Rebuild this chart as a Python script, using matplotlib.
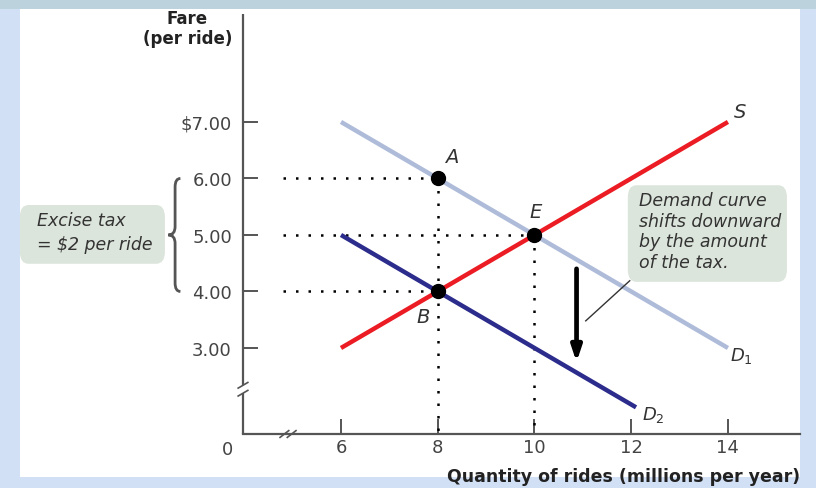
import matplotlib.pyplot as plt
from matplotlib.patches import Rectangle, FancyBboxPatch, PathPatch
from matplotlib.path import Path

# data
qty_ticks = [6, 8, 10, 12, 14]
fare_ticks = [3, 4, 5, 6, 7]
fare_labels = ['3.00', '4.00', '5.00', '6.00', '$7.00']

supply_q = [6, 14]
supply_p = [3, 7]
demand1_q = [6, 14]
demand1_p = [7, 3]
demand2_q = [6, 12.1]
demand2_p = [5, 1.95]

points = {'A': (8, 6), 'E': (10, 5), 'B': (8, 4)}

grey = '#444444'

fig = plt.figure(figsize=(8.16, 4.89), dpi=100)
fig.patch.set_facecolor('#d2e0f6')
# white panel and top band (behind the axes)
fig.patches.append(Rectangle((0, 1 - 10 / 489), 1, 10 / 489, transform=fig.transFigure,
                             facecolor='#bcd3dd', edgecolor='none', zorder=-5))
fig.patches.append(Rectangle((20 / 816, 11 / 489), 780 / 816, 468 / 489, transform=fig.transFigure,
                             facecolor='white', edgecolor='none', zorder=-5))

ax = fig.add_axes([243 / 816, 54 / 489, 557 / 816, 420 / 489])
ax.patch.set_alpha(0)
x0, x1 = 3.974, 15.49
y0, y1 = 1.478, 8.91
ax.set_xlim(x0, x1)
ax.set_ylim(y0, y1)

for s in ['top', 'right', 'left']:
    ax.spines[s].set_visible(False)
ax.spines['bottom'].set_color('#555555')
ax.spines['bottom'].set_linewidth(1.6)

# y axis drawn with a break
ax.plot([x0, x0], [y0, 2.2], color='#555555', lw=1.6, clip_on=False, solid_capstyle='butt')
ax.plot([x0, x0], [2.34, y1], color='#555555', lw=1.6, clip_on=False, solid_capstyle='butt')
for yb in [2.2, 2.34]:
    ax.plot([x0 - 0.1, x0 + 0.1], [yb - 0.05, yb + 0.05], color='#555555', lw=1.2, clip_on=False)
# x axis break marks
for xb in [4.83, 4.98]:
    ax.plot([xb - 0.09, xb + 0.09], [y0 - 0.06, y0 + 0.06], color='#555555', lw=1.2, clip_on=False)

ax.set_xticks(qty_ticks)
ax.set_xticklabels([str(q) for q in qty_ticks])
ax.set_yticks(fare_ticks)
ax.set_yticklabels(fare_labels)
ax.tick_params(axis='both', direction='in', length=11, width=1.4, color='#555555',
               labelcolor=grey, labelsize=13)
ax.tick_params(axis='x', pad=3)
ax.tick_params(axis='y', pad=8)
ax.text(3.66, y0 - 0.1, '0', ha='center', va='top', fontsize=13, color=grey, clip_on=False)

# dotted guide lines
for name, (q, p) in points.items():
    ax.plot([4.8, q], [p, p], color='black', lw=1.8, ls=(0, (1, 4)), zorder=2, clip_on=False)
ax.plot([8, 8], [6, y0], color='black', lw=1.8, ls=(0, (1, 4)), zorder=2)
ax.plot([10, 10], [5, y0], color='black', lw=1.8, ls=(0, (1, 4)), zorder=2)

# curves
ax.plot(demand1_q, demand1_p, color='#aebbd9', lw=3.2, solid_capstyle='butt', zorder=3)
ax.plot(demand2_q, demand2_p, color='#2c2c8c', lw=3.2, solid_capstyle='butt', zorder=3)
ax.plot(supply_q, supply_p, color='#ec1c24', lw=3.2, solid_capstyle='butt', zorder=4)

for name, (q, p) in points.items():
    ax.plot(q, p, 'o', color='black', ms=10, zorder=5)

lbl = dict(fontsize=14, color='#333333', style='italic')
ax.text(8.29, 6.38, 'A', ha='center', va='center', **lbl)
ax.text(10.03, 5.41, 'E', ha='center', va='center', **lbl)
ax.text(7.70, 3.55, 'B', ha='center', va='center', **lbl)
ax.text(14.25, 7.18, 'S', ha='center', va='center', **lbl)
ax.text(14.05, 2.87, r'$D_1$', ha='left', va='center', fontsize=13, color='#333333')
ax.text(12.22, 1.83, r'$D_2$', ha='left', va='center', fontsize=13, color='#333333')

# shift arrow and leader
ax.annotate('', xy=(10.87, 2.7), xytext=(10.87, 4.45),
            arrowprops=dict(arrowstyle='-|>,head_width=0.3,head_length=0.9',
                            color='black', lw=3.4), zorder=6)
ax.plot([11.06, 11.97], [3.48, 4.19], color='#333333', lw=1.0, zorder=6)

# callout boxes
box_kw = dict(boxstyle='round,pad=0,rounding_size=0.18', facecolor='#dce5dc',
              edgecolor='none', clip_on=False, zorder=1, mutation_aspect=1.2)
ax.add_patch(FancyBboxPatch((11.93, 4.17), 3.29, 1.71, **box_kw))
ax.text(12.17, 5.78, 'Demand curve\nshifts downward\nby the amount\nof the tax.',
        ha='left', va='top', fontsize=12.5, style='italic', color='#333333',
        linespacing=1.2, zorder=7)
ax.add_patch(FancyBboxPatch((-0.64, 4.49), 3.0, 1.04, **box_kw))
ax.text(-0.28, 5.05, 'Excise tax\n= $2 per ride', ha='left', va='center', fontsize=12.5,
        style='italic', color='#333333', linespacing=1.45, clip_on=False)

# brace
bx, bm, bt = 2.68, 2.57, 2.43
verts = [(bx, 6.0), (bm, 6.0), (bm, 5.85),
         (bm, 5.15),
         (bm, 5.0), (bt, 5.0),
         (bm, 5.0), (bm, 4.85),
         (bm, 4.15),
         (bm, 4.0), (bx, 4.0)]
codes = [Path.MOVETO, Path.CURVE3, Path.CURVE3,
         Path.LINETO,
         Path.CURVE3, Path.CURVE3,
         Path.CURVE3, Path.CURVE3,
         Path.LINETO,
         Path.CURVE3, Path.CURVE3]
ax.add_patch(PathPatch(Path(verts, codes), facecolor='none', edgecolor='#555555',
                       lw=2.0, clip_on=False))

# axis titles
ax.text(3.75, 9.0, 'Fare\n(per ride)', ha='right', va='top', multialignment='center',
        fontsize=12, fontweight='bold', color='#222222', linespacing=1.15, clip_on=False)
ax.text(x1, 0.73, 'Quantity of rides (millions per year)', ha='right', va='center',
        fontsize=12.5, fontweight='bold', color='#222222', clip_on=False)

fig.savefig('out.png', dpi=100, facecolor=fig.get_facecolor())
